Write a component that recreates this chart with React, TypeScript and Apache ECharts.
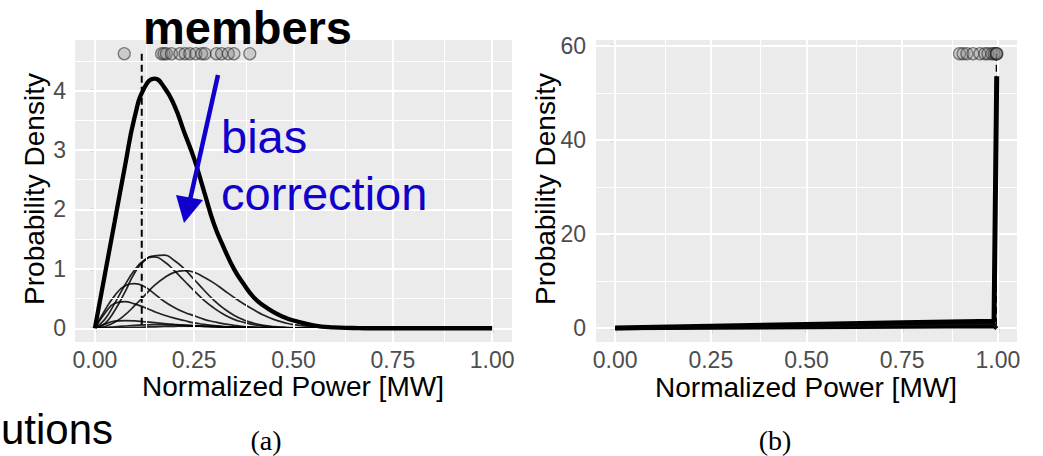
import React, { useEffect, useRef } from "react";
import * as echarts from "echarts";

// ---------- data ----------
const X_GRID = [0, 0.025, 0.05, 0.075, 0.1, 0.125, 0.15, 0.175, 0.2, 0.225, 0.25, 0.275, 0.3, 0.325, 0.35, 0.375, 0.4, 0.425, 0.45, 0.475, 0.5, 0.55, 0.6, 0.65, 0.7, 1.0];

const COMBINED_A = [0, 0.9, 1.8, 2.7, 3.55, 4.05, 4.2, 4.05, 3.75, 3.3, 2.85, 2.3, 1.75, 1.35, 1.0, 0.74, 0.52, 0.38, 0.27, 0.19, 0.13, 0.05, 0.015, 0.005, 0, 0];
const MEMBER_1 = [0, 0.08, 0.3, 0.6, 0.93, 1.14, 1.22, 1.23, 1.14, 1.0, 0.82, 0.64, 0.47, 0.33, 0.22, 0.14, 0.085, 0.05, 0.03, 0.018, 0.01, 0.003, 0, 0, 0, 0];
const MEMBER_2 = [0, 0.15, 0.42, 0.72, 0.98, 1.15, 1.2, 1.12, 0.97, 0.8, 0.63, 0.47, 0.34, 0.23, 0.15, 0.1, 0.06, 0.035, 0.02, 0.01, 0.005, 0, 0, 0, 0, 0];
const MEMBER_3 = [0, 0.03, 0.1, 0.22, 0.38, 0.55, 0.72, 0.85, 0.94, 0.97, 0.94, 0.86, 0.76, 0.64, 0.52, 0.41, 0.31, 0.22, 0.15, 0.1, 0.06, 0.02, 0.005, 0, 0, 0];
const MEMBER_4 = [0, 0.3, 0.55, 0.71, 0.75, 0.7, 0.58, 0.45, 0.35, 0.27, 0.21, 0.15, 0.11, 0.075, 0.05, 0.03, 0.02, 0.01, 0.005, 0.002, 0, 0, 0, 0, 0, 0];
const MEMBER_5 = [0, 0.25, 0.42, 0.45, 0.41, 0.35, 0.28, 0.22, 0.17, 0.13, 0.09, 0.065, 0.045, 0.03, 0.02, 0.013, 0.008, 0.005, 0.003, 0.001, 0, 0, 0, 0, 0, 0];
const MEMBER_6 = [0, 0.07, 0.12, 0.13, 0.125, 0.11, 0.095, 0.08, 0.065, 0.052, 0.04, 0.03, 0.022, 0.015, 0.01, 0.006, 0.004, 0.002, 0.001, 0, 0, 0, 0, 0, 0, 0];
const MEMBER_7 = [0, 0.01, 0.025, 0.038, 0.05, 0.057, 0.06, 0.058, 0.055, 0.05, 0.045, 0.038, 0.03, 0.025, 0.02, 0.015, 0.01, 0.007, 0.005, 0.004, 0.003, 0.001, 0, 0, 0, 0];
const MEMBER_8 = [0, 0.002, 0.005, 0.01, 0.015, 0.02, 0.025, 0.03, 0.033, 0.035, 0.035, 0.033, 0.03, 0.026, 0.022, 0.018, 0.014, 0.01, 0.007, 0.006, 0.005, 0.002, 0, 0, 0, 0];

const MEMBER_POINTS_A = [0.074, 0.168, 0.174, 0.18, 0.193, 0.214, 0.227, 0.239, 0.254, 0.269, 0.277, 0.306, 0.319, 0.336, 0.35, 0.39];
const POINT_LEVEL_A = 4.62;
const OBS_A = 0.118;

const X_GRID_B = [0, 0.25, 0.5, 0.75, 0.99, 0.997];
const COMBINED_B = [0.05, 0.42, 0.8, 1.15, 1.5, 53.5];
const MEMBER_B1 = [0, 0.28, 0.55, 0.8, 1.05, 0];
const MEMBER_B2 = [0, 0.1, 0.2, 0.3, 0.4, 0];
const MEMBER_POINTS_B = [0.9, 0.909, 0.919, 0.935, 0.953, 0.966, 0.974, 0.984, 0.99, 0.995, 0.997, 0.997];
const POINT_LEVEL_B = 58.3;
const OBS_B = 0.997;

const X_TICKS = [0, 0.25, 0.5, 0.75, 1];
const X_MINOR = [0.125, 0.375, 0.625, 0.875];
const Y_TICKS_A = [0, 1, 2, 3, 4];
const Y_MINOR_A = [0.5, 1.5, 2.5, 3.5, 4.5];
const Y_TICKS_B = [0, 20, 40, 60];
const Y_MINOR_B = [10, 30, 50];

const BLUE = "#1100cc";
const FONT = "'Liberation Sans', Arial, sans-serif";

const pairs = (xs: number[], ys: number[]) => xs.map((x, i) => [x, ys[i]]);

function gridSeries(idx: number, yMajor: number[], yMinor: number[]) {
  const major = { color: "#ffffff", width: 2, type: "solid" as const };
  const minor = { color: "#ffffff", width: 1, type: "solid" as const };
  return {
    type: "line",
    xAxisIndex: idx,
    yAxisIndex: idx,
    data: [[0, 0]],
    showSymbol: false,
    lineStyle: { width: 0, opacity: 0 },
    silent: true,
    z: 1,
    markLine: {
      silent: true,
      symbol: ["none", "none"],
      label: { show: false },
      animation: false,
      data: [
        ...X_MINOR.map((v) => ({ xAxis: v, lineStyle: minor })),
        ...yMinor.map((v) => ({ yAxis: v, lineStyle: minor })),
        ...X_TICKS.map((v) => ({ xAxis: v, lineStyle: major })),
        ...yMajor.map((v) => ({ yAxis: v, lineStyle: major })),
      ],
    },
  };
}

function xAxisCfg(idx: number) {
  return {
    type: "value",
    gridIndex: idx,
    min: -0.05,
    max: 1.05,
    axisLine: { show: false },
    splitLine: { show: false },
    axisTick: { show: true, customValues: X_TICKS, length: 5, lineStyle: { color: "#333", width: 1.2 } },
    axisLabel: {
      show: true,
      customValues: X_TICKS,
      formatter: (v: number) => v.toFixed(2),
      color: "#4d4d4d",
      fontSize: 23,
      fontFamily: FONT,
      margin: 6,
    },
  };
}

function yAxisCfg(idx: number, min: number, max: number, ticks: number[], margin: number) {
  return {
    type: "value",
    gridIndex: idx,
    min,
    max,
    axisLine: { show: false },
    splitLine: { show: false },
    axisTick: { show: true, customValues: ticks, length: 5, lineStyle: { color: "#333", width: 1.2 } },
    axisLabel: {
      show: true,
      customValues: ticks,
      color: "#4d4d4d",
      fontSize: 23,
      fontFamily: FONT,
      margin,
    },
  };
}

function thin(data: number[], idx = 0) {
  return {
    type: "line",
    xAxisIndex: idx,
    yAxisIndex: idx,
    data: pairs(X_GRID, data),
    smooth: 0.5,
    showSymbol: false,
    silent: true,
    z: 3,
    lineStyle: { color: "rgba(0,0,0,0.85)", width: 1.7 },
  };
}

export default function App() {
  const ref = useRef<HTMLDivElement>(null);
  useEffect(() => {
    document.body.style.margin = "0";
    const chart = echarts.init(ref.current!, null, { renderer: "svg" });
    const option: any = {
      animation: false,
      backgroundColor: "#ffffff",
      grid: [
        { left: 75, top: 40, width: 437, height: 302, show: true, backgroundColor: "#EBEBEB", borderWidth: 0 },
        { left: 596, top: 40, width: 421, height: 302, show: true, backgroundColor: "#EBEBEB", borderWidth: 0 },
      ],
      xAxis: [xAxisCfg(0), xAxisCfg(1)],
      yAxis: [
        yAxisCfg(0, -0.231, 4.851, Y_TICKS_A, 9),
        yAxisCfg(1, -2.92, 61.2, Y_TICKS_B, 10),
      ],
      series: [
        gridSeries(0, Y_TICKS_A, Y_MINOR_A),
        gridSeries(1, Y_TICKS_B, Y_MINOR_B),
        thin(MEMBER_1),
        thin(MEMBER_2),
        thin(MEMBER_3),
        thin(MEMBER_4),
        thin(MEMBER_5),
        thin(MEMBER_6),
        thin(MEMBER_7),
        thin(MEMBER_8),
        {
          type: "line",
          xAxisIndex: 0,
          yAxisIndex: 0,
          data: [[OBS_A, POINT_LEVEL_A], [OBS_A, 0]],
          showSymbol: false,
          silent: true,
          z: 4,
          lineStyle: { color: "#000", width: 2, type: [7, 4] },
        },
        {
          type: "line",
          xAxisIndex: 0,
          yAxisIndex: 0,
          data: pairs(X_GRID, COMBINED_A),
          smooth: 0.5,
          showSymbol: false,
          silent: true,
          z: 5,
          lineStyle: { color: "#000", width: 4.3 },
        },
        {
          type: "scatter",
          xAxisIndex: 0,
          yAxisIndex: 0,
          data: MEMBER_POINTS_A.map((x) => [x, POINT_LEVEL_A]),
          symbol: "circle",
          symbolSize: 12,
          silent: true,
          z: 6,
          itemStyle: { color: "rgba(130,130,130,0.38)", borderColor: "rgba(30,30,30,0.65)", borderWidth: 1.3 },
        },
        {
          type: "line",
          xAxisIndex: 1,
          yAxisIndex: 1,
          data: [[OBS_B, POINT_LEVEL_B], [OBS_B, 0]],
          showSymbol: false,
          silent: true,
          z: 4,
          lineStyle: { color: "#000", width: 2, type: [7, 4] },
        },
        {
          type: "line",
          xAxisIndex: 1,
          yAxisIndex: 1,
          data: pairs(X_GRID_B, MEMBER_B2),
          showSymbol: false,
          silent: true,
          z: 5,
          lineStyle: { color: "#000", width: 4 },
        },
        {
          type: "line",
          xAxisIndex: 1,
          yAxisIndex: 1,
          data: pairs(X_GRID_B, MEMBER_B1),
          showSymbol: false,
          silent: true,
          z: 5,
          lineStyle: { color: "#111", width: 3 },
        },
        {
          type: "line",
          xAxisIndex: 1,
          yAxisIndex: 1,
          data: pairs(X_GRID_B, COMBINED_B),
          showSymbol: false,
          silent: true,
          z: 5,
          lineStyle: { color: "#000", width: 5 },
        },
        {
          type: "scatter",
          xAxisIndex: 1,
          yAxisIndex: 1,
          data: MEMBER_POINTS_B.map((x) => [x, POINT_LEVEL_B]),
          symbol: "circle",
          symbolSize: 12,
          silent: true,
          z: 6,
          itemStyle: { color: "rgba(130,130,130,0.3)", borderColor: "rgba(30,30,30,0.65)", borderWidth: 1.3 },
        },
      ],
      graphic: [
        // axis titles
        { type: "text", x: 293, y: 386, z: 100, style: { text: "Normalized Power [MW]", fill: "#000", font: `28px ${FONT}`, align: "center", verticalAlign: "middle" } },
        { type: "text", x: 806, y: 387, z: 100, style: { text: "Normalized Power [MW]", fill: "#000", font: `28px ${FONT}`, align: "center", verticalAlign: "middle" } },
        { type: "text", x: 34, y: 189, rotation: Math.PI / 2, z: 100, style: { text: "Probability Density", fill: "#000", font: `28px ${FONT}`, align: "center", verticalAlign: "middle" } },
        { type: "text", x: 545, y: 189, rotation: Math.PI / 2, z: 100, style: { text: "Probability Density", fill: "#000", font: `28px ${FONT}`, align: "center", verticalAlign: "middle" } },
        // captions
        { type: "text", x: 266, y: 440, z: 100, style: { text: "(a)", fill: "#000", font: `28px 'Liberation Serif', 'Times New Roman', serif`, align: "center", verticalAlign: "middle" } },
        { type: "text", x: 775, y: 440, z: 100, style: { text: "(b)", fill: "#000", font: `28px 'Liberation Serif', 'Times New Roman', serif`, align: "center", verticalAlign: "middle" } },
        { type: "text", x: 1, y: 429, z: 100, style: { text: "utions", fill: "#000", font: `42px ${FONT}`, align: "left", verticalAlign: "middle" } },
        // annotations
        { type: "text", x: 143, y: 27, z: 100, style: { text: "members", fill: "#000", font: `bold 47px ${FONT}`, align: "left", verticalAlign: "middle" } },
        { type: "text", x: 221, y: 136, z: 100, style: { text: "bias", fill: BLUE, font: `47px ${FONT}`, align: "left", verticalAlign: "middle" } },
        { type: "text", x: 221, y: 193, z: 100, style: { text: "correction", fill: BLUE, font: `47px ${FONT}`, align: "left", verticalAlign: "middle" } },
        { type: "line", z: 100, shape: { x1: 218, y1: 75, x2: 190, y2: 200 }, style: { stroke: BLUE, lineWidth: 4.5 } },
        { type: "polygon", z: 100, shape: { points: [[184, 223], [176, 195], [203, 200]] }, style: { fill: BLUE } },
      ],
    };
    chart.setOption(option);
    return () => chart.dispose();
  }, []);
  return <div ref={ref} style={{ width: 1043, height: 456 }} />;
}
